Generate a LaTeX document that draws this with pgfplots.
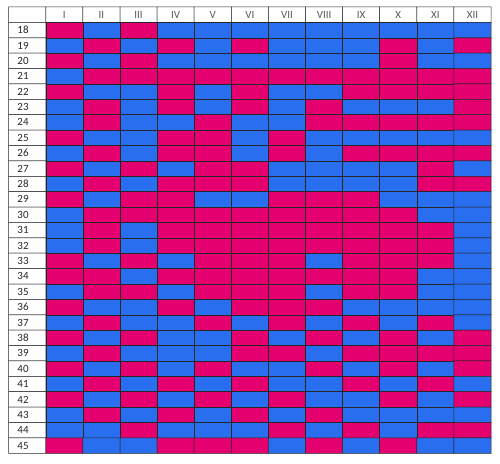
\documentclass[border=0pt]{standalone}
\usepackage{pgfplots}
\pgfplotsset{compat=1.18}
\usepackage{fontspec}
\setmainfont{Carlito}
\definecolor{pinkC}{HTML}{E4006E}
\definecolor{blueC}{HTML}{2A6EF0}
\begin{document}
\begin{tikzpicture}[x=1pt,y=1pt]
\begin{axis}[
  scale only axis, width=482.3pt, height=446.3pt,
  xmin=-0.5, xmax=12.5, ymin=-0.5, ymax=28.5,
  enlargelimits=false, axis lines=none, clip=false,
  colormap={gridmap}{color=(blueC) color=(pinkC) color=(white)},
  point meta min=0, point meta max=2,
]
\addplot[matrix plot*, mesh/cols=13, point meta=explicit, shader=faceted, faceted color=black!85, line width=0.5pt] coordinates {
(0,28)[2] (1,28)[2] (2,28)[2] (3,28)[2] (4,28)[2] (5,28)[2] (6,28)[2] (7,28)[2] (8,28)[2] (9,28)[2] (10,28)[2] (11,28)[2] (12,28)[2]
(0,27)[2] (1,27)[1] (2,27)[0] (3,27)[1] (4,27)[0] (5,27)[0] (6,27)[0] (7,27)[0] (8,27)[0] (9,27)[0] (10,27)[0] (11,27)[0] (12,27)[0]
(0,26)[2] (1,26)[0] (2,26)[1] (3,26)[0] (4,26)[1] (5,26)[0] (6,26)[1] (7,26)[0] (8,26)[0] (9,26)[0] (10,26)[1] (11,26)[0] (12,26)[1]
(0,25)[2] (1,25)[1] (2,25)[0] (3,25)[1] (4,25)[0] (5,25)[0] (6,25)[0] (7,25)[0] (8,25)[0] (9,25)[0] (10,25)[1] (11,25)[0] (12,25)[0]
(0,24)[2] (1,24)[0] (2,24)[1] (3,24)[1] (4,24)[1] (5,24)[1] (6,24)[1] (7,24)[1] (8,24)[1] (9,24)[1] (10,24)[1] (11,24)[1] (12,24)[1]
(0,23)[2] (1,23)[1] (2,23)[0] (3,23)[0] (4,23)[1] (5,23)[0] (6,23)[1] (7,23)[0] (8,23)[0] (9,23)[1] (10,23)[1] (11,23)[1] (12,23)[1]
(0,22)[2] (1,22)[0] (2,22)[1] (3,22)[0] (4,22)[1] (5,22)[0] (6,22)[1] (7,22)[0] (8,22)[1] (9,22)[0] (10,22)[0] (11,22)[0] (12,22)[1]
(0,21)[2] (1,21)[0] (2,21)[1] (3,21)[0] (4,21)[0] (5,21)[1] (6,21)[0] (7,21)[0] (8,21)[1] (9,21)[1] (10,21)[1] (11,21)[1] (12,21)[1]
(0,20)[2] (1,20)[1] (2,20)[0] (3,20)[0] (4,20)[1] (5,20)[1] (6,20)[0] (7,20)[1] (8,20)[0] (9,20)[0] (10,20)[0] (11,20)[0] (12,20)[0]
(0,19)[2] (1,19)[0] (2,19)[1] (3,19)[0] (4,19)[1] (5,19)[1] (6,19)[0] (7,19)[1] (8,19)[0] (9,19)[1] (10,19)[1] (11,19)[1] (12,19)[1]
(0,18)[2] (1,18)[1] (2,18)[0] (3,18)[1] (4,18)[0] (5,18)[1] (6,18)[1] (7,18)[0] (8,18)[0] (9,18)[0] (10,18)[0] (11,18)[1] (12,18)[0]
(0,17)[2] (1,17)[0] (2,17)[1] (3,17)[0] (4,17)[1] (5,17)[1] (6,17)[1] (7,17)[0] (8,17)[0] (9,17)[0] (10,17)[0] (11,17)[1] (12,17)[1]
(0,16)[2] (1,16)[1] (2,16)[0] (3,16)[1] (4,16)[1] (5,16)[0] (6,16)[0] (7,16)[1] (8,16)[1] (9,16)[1] (10,16)[0] (11,16)[0] (12,16)[0]
(0,15)[2] (1,15)[0] (2,15)[1] (3,15)[1] (4,15)[1] (5,15)[1] (6,15)[1] (7,15)[1] (8,15)[1] (9,15)[1] (10,15)[1] (11,15)[0] (12,15)[0]
(0,14)[2] (1,14)[0] (2,14)[1] (3,14)[0] (4,14)[1] (5,14)[1] (6,14)[1] (7,14)[1] (8,14)[1] (9,14)[1] (10,14)[1] (11,14)[1] (12,14)[0]
(0,13)[2] (1,13)[0] (2,13)[1] (3,13)[0] (4,13)[1] (5,13)[1] (6,13)[1] (7,13)[1] (8,13)[1] (9,13)[1] (10,13)[1] (11,13)[1] (12,13)[0]
(0,12)[2] (1,12)[1] (2,12)[0] (3,12)[1] (4,12)[0] (5,12)[1] (6,12)[1] (7,12)[1] (8,12)[0] (9,12)[1] (10,12)[1] (11,12)[1] (12,12)[0]
(0,11)[2] (1,11)[1] (2,11)[1] (3,11)[0] (4,11)[1] (5,11)[1] (6,11)[1] (7,11)[1] (8,11)[1] (9,11)[1] (10,11)[1] (11,11)[0] (12,11)[0]
(0,10)[2] (1,10)[0] (2,10)[1] (3,10)[1] (4,10)[0] (5,10)[1] (6,10)[1] (7,10)[1] (8,10)[0] (9,10)[1] (10,10)[1] (11,10)[0] (12,10)[0]
(0,9)[2] (1,9)[1] (2,9)[0] (3,9)[0] (4,9)[1] (5,9)[0] (6,9)[1] (7,9)[1] (8,9)[1] (9,9)[0] (10,9)[0] (11,9)[0] (12,9)[0]
(0,8)[2] (1,8)[0] (2,8)[1] (3,8)[0] (4,8)[0] (5,8)[1] (6,8)[0] (7,8)[1] (8,8)[0] (9,8)[1] (10,8)[0] (11,8)[1] (12,8)[0]
(0,7)[2] (1,7)[1] (2,7)[0] (3,7)[1] (4,7)[0] (5,7)[0] (6,7)[1] (7,7)[0] (8,7)[1] (9,7)[0] (10,7)[1] (11,7)[0] (12,7)[1]
(0,6)[2] (1,6)[0] (2,6)[1] (3,6)[0] (4,6)[0] (5,6)[0] (6,6)[1] (7,6)[1] (8,6)[0] (9,6)[1] (10,6)[1] (11,6)[1] (12,6)[1]
(0,5)[2] (1,5)[1] (2,5)[0] (3,5)[1] (4,5)[0] (5,5)[1] (6,5)[0] (7,5)[0] (8,5)[1] (9,5)[0] (10,5)[1] (11,5)[0] (12,5)[1]
(0,4)[2] (1,4)[0] (2,4)[1] (3,4)[0] (4,4)[1] (5,4)[0] (6,4)[1] (7,4)[0] (8,4)[0] (9,4)[1] (10,4)[0] (11,4)[1] (12,4)[0]
(0,3)[2] (1,3)[1] (2,3)[0] (3,3)[1] (4,3)[0] (5,3)[1] (6,3)[0] (7,3)[1] (8,3)[0] (9,3)[0] (10,3)[1] (11,3)[0] (12,3)[1]
(0,2)[2] (1,2)[0] (2,2)[1] (3,2)[0] (4,2)[1] (5,2)[0] (6,2)[1] (7,2)[0] (8,2)[1] (9,2)[0] (10,2)[0] (11,2)[0] (12,2)[0]
(0,1)[2] (1,1)[0] (2,1)[0] (3,1)[1] (4,1)[0] (5,1)[0] (6,1)[0] (7,1)[1] (8,1)[0] (9,1)[1] (10,1)[0] (11,1)[1] (12,1)[1]
(0,0)[2] (1,0)[1] (2,0)[0] (3,0)[0] (4,0)[1] (5,0)[1] (6,0)[1] (7,0)[0] (8,0)[1] (9,0)[0] (10,0)[1] (11,0)[0] (12,0)[0]
};
% column headers
\addplot[draw=none, mark=none, nodes near coords, point meta=explicit symbolic,
  every node near coord/.style={anchor=center, font=\fontsize{11}{13}\selectfont, text=black!65}]
  table[meta=lab] {
x y lab
1 28 I
2 28 II
3 28 III
4 28 IV
5 28 V
6 28 VI
7 28 VII
8 28 VIII
9 28 IX
10 28 X
11 28 XI
12 28 XII
};
% row labels
\addplot[draw=none, mark=none, nodes near coords, point meta=explicit symbolic,
  every node near coord/.style={anchor=west, font=\fontsize{11}{13}\selectfont, text=black!85}]
  table[meta=lab] {
x y lab
-0.36 27 18
-0.36 26 19
-0.36 25 20
-0.36 24 21
-0.36 23 22
-0.36 22 23
-0.36 21 24
-0.36 20 25
-0.36 19 26
-0.36 18 27
-0.36 17 28
-0.36 16 29
-0.36 15 30
-0.36 14 31
-0.36 13 32
-0.36 12 33
-0.36 11 34
-0.36 10 35
-0.36 9 36
-0.36 8 37
-0.36 7 38
-0.36 6 39
-0.36 5 40
-0.36 4 41
-0.36 3 42
-0.36 2 43
-0.36 1 44
-0.36 0 45
};
\end{axis}
\path (current axis.south west) ++(-8.7pt,-10pt) coordinate (bl);
\path (current axis.north east) ++(9pt,7pt) coordinate (tr);
\path[use as bounding box] (bl) rectangle (tr);
\end{tikzpicture}
\end{document}
